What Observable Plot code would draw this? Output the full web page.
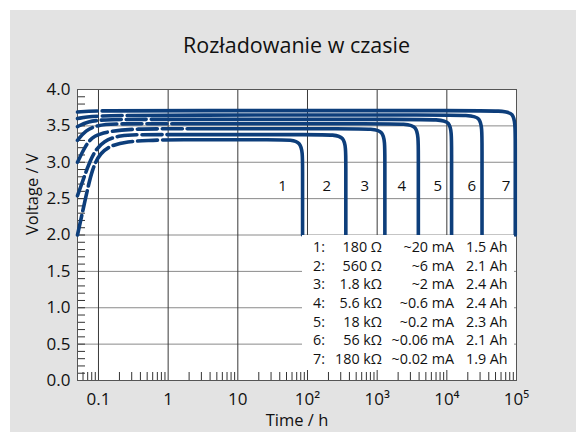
<!DOCTYPE html>
<html><head><meta charset="utf-8">
<script src="https://cdn.jsdelivr.net/npm/d3@7"></script>
<script src="https://cdn.jsdelivr.net/npm/@observablehq/plot@0.6"></script>
<style>
html,body{margin:0;padding:0;background:#fff;}
#page{position:relative;width:576px;height:432px;overflow:hidden;font-family:"Open Sans",sans-serif;color:#111;}
#panel{position:absolute;left:10px;top:10px;right:0;bottom:0;background:#e3e3e3;}
#title{position:absolute;left:77px;width:439px;top:30px;text-align:center;font-size:21.5px;line-height:30px;}
#chart{position:absolute;left:0;top:60px;}
#table{position:absolute;left:302px;top:235px;width:212px;height:135px;background:#fff;font-size:14.3px;}
.row{position:absolute;left:0;width:212px;height:19px;line-height:19px;white-space:nowrap;}
.row span{position:absolute;top:0;}
.c1{left:11px;} .c2{right:132px;} .c3{right:60px;} .c4{left:164px;}
</style></head>
<body><div id="page"><div id="panel"></div><div id="title">Rozładowanie w czasie</div><div id="chart"></div><div id="table"></div></div>
<script>
// ---- data ----
const curveIds = [1, 2, 3, 4, 5, 6, 7];
const resistance = ["180 Ω", "560 Ω", "1.8 kΩ", "5.6 kΩ", "18 kΩ", "56 kΩ", "180 kΩ"];
const current = ["~20 mA", "~6 mA", "~2 mA", "~0.6 mA", "~0.2 mA", "~0.06 mA", "~0.02 mA"];
const capacity = ["1.5 Ah", "2.1 Ah", "2.4 Ah", "2.4 Ah", "2.3 Ah", "2.1 Ah", "1.9 Ah"];
const labelTime = [44, 189, 664, 2256, 7430, 22900, 70500];
const labelVolt = [2.67, 2.67, 2.67, 2.67, 2.67, 2.67, 2.67];
const xMajor = [0.1, 1, 10, 100, 1000, 10000, 100000];
const xTickLabels = ["0.1", "1", "10", "10²", "10³", "10⁴", "10⁵"];
const xGrid = [0.1, 1, 10, 100, 1000, 10000];
const yMajor = [0, 0.5, 1, 1.5, 2, 2.5, 3, 3.5, 4];

// [time h, voltage V]
const curve1 = [[0.05,2.0],[0.065,2.5],[0.082,2.93],[0.107,3.13],[0.149,3.23],[0.26,3.285],[0.52,3.30],[1,3.31],[44,3.31],[85,3.31],[85,2.97],[85,2.0]];
const curve2 = [[0.05,2.54],[0.0695,2.93],[0.085,3.13],[0.118,3.30],[0.207,3.37],[0.376,3.38],[1,3.38],[183,3.38],[355,3.38],[355,3.04],[355,2.0]];
const curve3 = [[0.05,3.0],[0.065,3.23],[0.085,3.37],[0.149,3.43],[0.363,3.46],[1,3.46],[665,3.46],[1290,3.46],[1290,3.12],[1290,2.0]];
const curve4 = [[0.05,3.30],[0.065,3.44],[0.097,3.51],[0.164,3.53],[1,3.53],[2010,3.53],[3900,3.53],[3900,3.19],[3900,2.0]];
const curve5 = [[0.05,3.49],[0.07,3.56],[0.12,3.59],[1,3.59],[6040,3.59],[11700,3.59],[11700,3.25],[11700,2.0]];
const curve6 = [[0.05,3.60],[0.08,3.64],[1,3.65],[16500,3.65],[32000,3.65],[32000,3.31],[32000,2.0]];
const curve7 = [[0.05,3.69],[0.1,3.71],[1,3.71],[49500,3.71],[96000,3.71],[96000,3.37],[96000,2.0]];
const curves = [curve1, curve2, curve3, curve4, curve5, curve6, curve7];
const dashCounts = [6, 5, 5, 4, 3, 2, 1];

// ---- minor ticks ----
const xMinor = [];
for (let e = -2; e <= 4; e++) for (let m = 2; m <= 9; m++) { const v = m * Math.pow(10, e); if (v >= 0.05 && v < 100000) xMinor.push(+v.toPrecision(3)); }
const yMinor = d3.range(1, 40).map(i => i / 10);

const blue = "#0d3e7b";
const plotW = 576 - 77 - 60, plotH = 372 - 29 - 52;
const labelMap = new Map(xMajor.map((v, i) => [v, xTickLabels[i]]));

const lineMarks = curves.map((c, i) => Plot.line(c, {
  x: d => d[0], y: d => d[1], curve: "basis",
  stroke: blue, strokeWidth: 3.6,
  strokeDasharray: Array(dashCounts[i]).fill("20,5").join(",") + ",4000,0"
}));

const chart = Plot.plot({
  width: 576, height: 372,
  marginTop: 29, marginBottom: 52, marginLeft: 77, marginRight: 60,
  style: {fontFamily: "'Open Sans', sans-serif", fontSize: "17px", color: "#111", background: "transparent", overflow: "visible"},
  x: {type: "log", domain: [0.05, 100000]},
  y: {domain: [0, 4]},
  marks: [
    Plot.frame({fill: "white"}),
    Plot.gridY(yMajor, {stroke: "#8a8a8a", strokeOpacity: 1}),
    Plot.gridX(xGrid, {stroke: "#3a3a3a", strokeOpacity: 1}),
    Plot.tickX(xMinor, {x: d => d, insetTop: plotH - 8, stroke: "#333"}),
    Plot.tickY(yMinor, {y: d => d, insetRight: plotW - 8, stroke: "#333"}),
    Plot.frame({stroke: "#555"}),
    ...lineMarks,
    Plot.text(curveIds, {x: (d, i) => labelTime[i], y: (d, i) => labelVolt[i], text: d => String(d), fontSize: 15, fill: "#111"}),
    Plot.axisX({ticks: xMajor, tickFormat: d => labelMap.get(d), tickSize: 0, tickPadding: 12, label: null, fontSize: 17}),
    Plot.axisY({ticks: yMajor, tickFormat: d => d.toFixed(1), tickSize: 0, tickPadding: 7, label: null, fontSize: 17}),
    Plot.text(["Time / h"], {frameAnchor: "bottom", dy: 40, fontSize: 16.5, lineAnchor: "middle", fill: "#111"}),
    Plot.text(["Voltage / V"], {frameAnchor: "left", dx: -45, rotate: -90, fontSize: 16.5, fill: "#111"})
  ]
});
document.getElementById("chart").appendChild(chart);

// ---- legend table ----
const table = document.getElementById("table");
curveIds.forEach((id, i) => {
  const row = document.createElement("div");
  row.className = "row";
  row.style.top = (2.2 + i * 18.6) + "px";
  [[id + ":", "c1"], [resistance[i], "c2"], [current[i], "c3"], [capacity[i], "c4"]].forEach(([t, c]) => {
    const s = document.createElement("span"); s.className = c; s.textContent = t; row.appendChild(s);
  });
  table.appendChild(row);
});
</script></body></html>
